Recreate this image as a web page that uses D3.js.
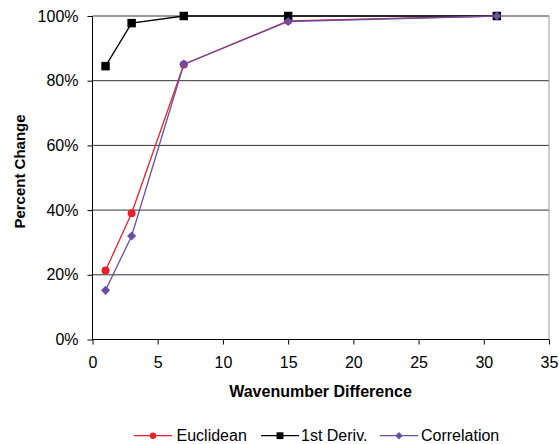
<!DOCTYPE html>
<html><head><meta charset="utf-8">
<script src="https://cdn.jsdelivr.net/npm/d3@7"></script>
<style>body{margin:0;background:#fff}svg{display:block}text{font-family:"Liberation Sans",Arial,sans-serif}</style>
</head><body>
<svg id="c" width="559" height="444"></svg>
<script>
const xValues = [1, 3, 7, 15, 31];
const euclidean = [21.3, 39.0, 85.0, 98.5, 100];
const firstDeriv = [84.5, 97.8, 100, 100, 100];
const correlation = [15.2, 32.0, 85.1, 98.3, 100];
const xTicks = [0, 5, 10, 15, 20, 25, 30, 35];
const yTicks = [0, 20, 40, 60, 80, 100];
const seriesNames = ["Euclidean", "1st Deriv.", "Correlation"];

const svg = d3.select("#c");
const x = d3.scaleLinear().domain([0, 35]).range([92.5, 549]);
const y = d3.scaleLinear().domain([0, 100]).range([339.5, 16]);

// gridlines
svg.append("g").selectAll("line").data(yTicks.filter(d => d > 0)).join("line")
  .attr("x1", x(0)).attr("x2", x(35)).attr("y1", d => y(d)).attr("y2", d => y(d))
  .attr("stroke", "#333").attr("stroke-width", 1);
// right border
svg.append("line").attr("x1", x(35)).attr("x2", x(35)).attr("y1", y(100)).attr("y2", y(0))
  .attr("stroke", "#999");

const yAxis = d3.axisLeft(y).tickValues(yTicks).tickFormat(d => d + "%").tickSize(5).tickPadding(9);
const gy = svg.append("g").attr("transform", `translate(${x(0)},0)`).call(yAxis);
const xAxis = d3.axisBottom(x).tickValues(xTicks).tickSize(5).tickPadding(12);
const gx = svg.append("g").attr("transform", `translate(0,${y(0)})`).call(xAxis);
[gy, gx].forEach(g => {
  g.select(".domain").attr("stroke", "#000");
  g.selectAll(".tick line").attr("stroke", "#000");
  g.selectAll(".tick text").attr("fill", "#000").style("font-size", "16px").style("font-family", "'Liberation Sans',Arial,sans-serif");
});
gx.select(".domain").attr("d", `M${x(0)},0H${x(35)}`);
gy.select(".domain").attr("d", `M0,${y(0)}V${y(100)}`);

svg.append("text").attr("transform", `translate(25,171.5) rotate(-90)`).attr("text-anchor", "middle")
  .style("font-size", "15px").style("font-weight", "bold").text("Percent Change");
svg.append("text").attr("x", 320.5).attr("y", 396.5).attr("text-anchor", "middle")
  .style("font-size", "16px").style("font-weight", "bold").text("Wavenumber Difference");

const diamond = {draw(ctx, size) { const r = Math.sqrt(size / 2); ctx.moveTo(0, -r); ctx.lineTo(r, 0); ctx.lineTo(0, r); ctx.lineTo(-r, 0); ctx.closePath(); }};
const series = [
  {name: seriesNames[0], values: euclidean, color: "#e8222b", shape: d3.symbolCircle, size: 50},
  {name: seriesNames[1], values: firstDeriv, color: "#000000", shape: d3.symbolSquare, size: 72},
  {name: seriesNames[2], values: correlation, color: "#6b4ea0", shape: diamond, size: 42}
];
const line = d3.line().x((d, i) => x(xValues[i])).y(d => y(d));
series.forEach(s => {
  svg.append("path").datum(s.values).attr("d", line).attr("fill", "none")
    .attr("stroke", s.color).attr("stroke-width", 1.3);
  svg.append("g").selectAll("path").data(s.values).join("path")
    .attr("transform", (d, i) => `translate(${x(xValues[i])},${y(d)})`)
    .attr("d", d3.symbol().type(s.shape).size(s.size)).attr("fill", s.color);
});

// legend
const legX = [134, 261, 380];
const legY = 435.7;
series.forEach((s, i) => {
  const g = svg.append("g").attr("transform", `translate(${legX[i]},${legY})`);
  g.append("line").attr("x1", 0).attr("x2", 38).attr("stroke", s.color).attr("stroke-width", 1.3);
  g.append("path").attr("transform", "translate(19,0)").attr("d", d3.symbol().type(s.shape).size(s.size * 0.65)).attr("fill", s.color);
  g.append("text").attr("x", [42.5, 40, 41][i]).attr("y", 5.5).style("font-size", "16px").text(s.name);
});
</script>
</body></html>
